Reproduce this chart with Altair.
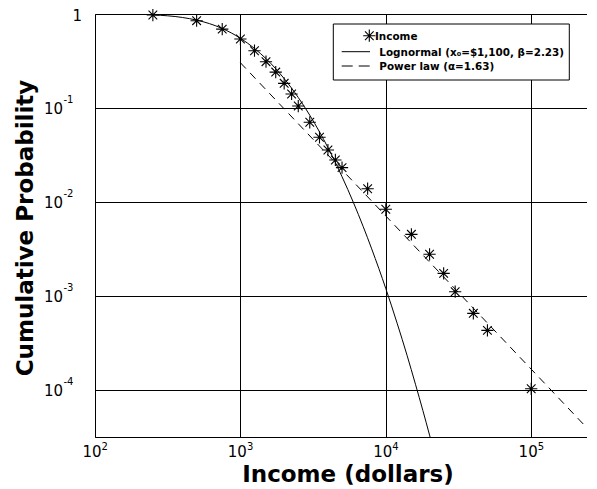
import altair as alt
import pandas as pd

# ---------------- data ----------------
income = [250, 500, 750, 1000, 1250, 1500, 1750, 2000, 2250, 2500, 3000, 3500,
          4000, 4500, 5000, 7500, 10000, 15000, 20000, 25000, 30000, 40000,
          50000, 100000]
cum_prob = [0.975, 0.849, 0.69, 0.542, 0.407, 0.311, 0.241, 0.183, 0.141,
            0.105, 0.0705, 0.0488, 0.0357, 0.028, 0.0232, 0.01385, 0.00836,
            0.00453, 0.00278, 0.00174, 0.00111, 0.000654, 0.000431, 0.000103]

lognorm_x = [250, 400, 500, 750, 1000, 1250, 1500, 2000, 2500, 3000, 3500,
             4000, 5000, 6000, 7000, 8000, 10000, 12000, 14000, 16000, 18000,
             20000, 21000]
lognorm_p = [0.979, 0.918, 0.861, 0.701, 0.552, 0.430, 0.335, 0.2055, 0.1294,
             0.0838, 0.0557, 0.0379, 0.0186, 0.0098, 0.00545, 0.00317, 0.0012,
             0.000506, 0.000234, 0.000115, 0.0000603, 0.0000331, 0.0000249]

power_x = [1000, 300000]
power_p = [0.303, 0.0000278]

x_ticks = [100, 1000, 10000, 100000]
x_tick_base = ["10", "10", "10", "10"]
x_tick_exp = ["2", "3", "4", "5"]

y_ticks = [0.1, 0.01, 0.001, 0.0001]
y_tick_base = ["10", "10", "10", "10"]
y_tick_exp = ["-1", "-2", "-3", "-4"]
y_top_tick = [1]
y_top_label = ["1"]

legend_labels = ["Income", "Lognormal (x\u2080=$1,100, \u03b2=2.23)",
                 "Power law (\u03b1=1.63)"]

x_title = "Income (dollars)"
y_title = "Cumulative Probability"

X_DOMAIN = [100, 242000]
Y_DOMAIN = [10 ** -4.5, 1]

# ---------------- styling ----------------
FONT = "DejaVu Sans"
W, H = 492, 423
STAR = ("M0,-1L0,1M-1,0L1,0M-0.7071,-0.7071L0.7071,0.7071"
        "M-0.7071,0.7071L0.7071,-0.7071")

xs = alt.Scale(type="log", domain=X_DOMAIN, nice=False)
ys = alt.Scale(type="log", domain=Y_DOMAIN, nice=False)

x_axis = alt.Axis(values=x_ticks, labels=False, ticks=False, domain=True,
                  domainColor="black", domainWidth=1,
                  grid=True, gridColor="black", gridOpacity=1, gridWidth=1,
                  title=x_title, titleFont=FONT, titleFontSize=23,
                  titleFontWeight="bold", titleColor="black",
                  titleX=252.5, titleY=44.7, titleAlign="center",
                  titleBaseline="alphabetic")
y_axis = alt.Axis(values=y_ticks + y_top_tick, labels=False, ticks=False,
                  domain=True, domainColor="black", domainWidth=1,
                  grid=True, gridColor="black", gridOpacity=1,
                  gridWidth=1, title=y_title, titleFont=FONT, titleFontSize=23,
                  titleFontWeight="bold", titleColor="black", titleAngle=270,
                  titleX=-62.5, titleY=213.5, titleAlign="center",
                  titleBaseline="alphabetic")


def X():
    return alt.X("x:Q", scale=xs, axis=x_axis)


def Y():
    return alt.Y("y:Q", scale=ys, axis=y_axis)


income_df = pd.DataFrame({"x": income, "y": cum_prob})
logn_df = pd.DataFrame({"x": lognorm_x, "y": lognorm_p})
pow_df = pd.DataFrame({"x": power_x, "y": power_p})
xt_df = pd.DataFrame({"x": x_ticks, "base": x_tick_base, "exp": x_tick_exp})
yt_df = pd.DataFrame({"y": y_ticks, "base": y_tick_base, "exp": y_tick_exp})
ytop_df = pd.DataFrame({"y": y_top_tick, "base": y_top_label})
one = pd.DataFrame({"k": [0]})

lognorm_line = alt.Chart(logn_df).mark_line(
    color="black", strokeWidth=1, interpolate="monotone", clip=True
).encode(x=X(), y=Y())

power_line = alt.Chart(pow_df).mark_line(
    color="black", strokeWidth=1, strokeDash=[8, 6], clip=True
).encode(x=X(), y=Y())

points = alt.Chart(income_df).mark_point(
    shape=STAR, size=150, filled=False, stroke="black", strokeWidth=1.1,
    opacity=1
).encode(x=X(), y=Y())

# tick labels (10 with superscript exponent)
xt_base = alt.Chart(xt_df).mark_text(
    align="right", baseline="alphabetic", dx=6.5, font=FONT, fontSize=15,
    color="black"
).encode(x=X(), y=alt.value(H + 20), text="base:N")
xt_exp = alt.Chart(xt_df).mark_text(
    align="left", baseline="alphabetic", dx=6.5, font=FONT, fontSize=10,
    color="black"
).encode(x=X(), y=alt.value(H + 13), text="exp:N")

yt_base = alt.Chart(yt_df).mark_text(
    align="right", baseline="alphabetic", dy=5.5, font=FONT, fontSize=15,
    color="black"
).encode(y=Y(), x=alt.value(-32), text="base:N")
yt_exp = alt.Chart(yt_df).mark_text(
    align="left", baseline="alphabetic", dy=-5, font=FONT, fontSize=10,
    color="black"
).encode(y=Y(), x=alt.value(-31.5), text="exp:N")
yt_top = alt.Chart(ytop_df).mark_text(
    align="right", baseline="alphabetic", dy=6.5, font=FONT, fontSize=15,
    color="black"
).encode(y=Y(), x=alt.value(-13), text="base:N")

# legend
leg_box = alt.Chart(one).mark_rect(
    fill="white", stroke="black", strokeWidth=1
).encode(x=alt.value(238.3), x2=alt.value(474.3), y=alt.value(10),
         y2=alt.value(66))
leg_star = alt.Chart(one).mark_point(
    shape=STAR, size=150, filled=False, stroke="black", strokeWidth=1.1,
    opacity=1
).encode(x=alt.value(274.3), y=alt.value(21.7))
leg_solid = alt.Chart(one).mark_rule(color="black", strokeWidth=1).encode(
    x=alt.value(246.7), x2=alt.value(275), y=alt.value(37.7))
leg_dash = alt.Chart(one).mark_rule(
    color="black", strokeWidth=1, strokeDash=[11, 6]
).encode(x=alt.value(246.7), x2=alt.value(275), y=alt.value(52))

leg_txt_style = dict(align="left", baseline="alphabetic", font=FONT,
                     fontWeight="bold", fontSize=10.4, color="black")
leg_t1 = alt.Chart(one).mark_text(**leg_txt_style).encode(
    x=alt.value(280), y=alt.value(26), text=alt.value(legend_labels[0]))
leg_t2 = alt.Chart(one).mark_text(**leg_txt_style).encode(
    x=alt.value(284.3), y=alt.value(41.7), text=alt.value(legend_labels[1]))
leg_t3 = alt.Chart(one).mark_text(**leg_txt_style).encode(
    x=alt.value(284.3), y=alt.value(56), text=alt.value(legend_labels[2]))

chart = alt.layer(
    lognorm_line, power_line, points,
    xt_base, xt_exp, yt_base, yt_exp, yt_top,
    leg_box, leg_star, leg_solid, leg_dash, leg_t1, leg_t2, leg_t3,
).properties(
    width=W, height=H,
    autosize=alt.AutoSizeParams(type="none"),
    padding={"left": 87, "top": 6, "right": 0, "bottom": 52},
).configure_view(
    stroke=None
).configure(background="white")

chart.save("out.html", embed_options={"renderer": "svg", "actions": False})
